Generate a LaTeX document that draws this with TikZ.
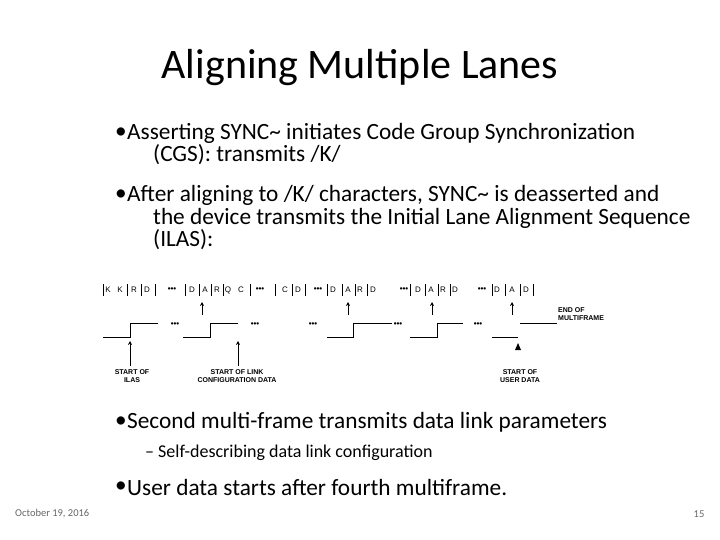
\documentclass[tikz,border=0pt]{standalone}
\usepackage{fontspec}
\usetikzlibrary{arrows.meta}
\setmainfont{Carlito}
\newfontfamily\arial{Liberation Sans}
\begin{document}
\begin{tikzpicture}[x=1pt,y=-1pt,
  txt/.style={anchor=west,inner sep=0,font=\fontsize{23.3}{27}\selectfont},
  sub/.style={anchor=west,inner sep=0,font=\fontsize{18}{22}\selectfont},
  ch/.style={inner sep=0,font=\arial\fontsize{8}{9}\selectfont},
  lab/.style={inner sep=0,align=center,font=\arial\bfseries\fontsize{7}{8}\selectfont},
  wave/.style={line width=0.8pt},
  arr/.style={line width=1pt,-{Stealth[length=4pt,width=4pt]}}]
\useasboundingbox (0,0) rectangle (720,540);
\node (title) at (360,68) {\fontsize{42}{46}\selectfont Aligning Multiple Lanes};
\foreach \y [count=\i] in {133,195,422,487} \node[txt] (bul\i) at (115,\y) {•};
\node[txt] (b1) at (127,133) {Asserting SYNC\textasciitilde{} initiates Code Group Synchronization};
\node[txt] (b1b) at (153,155) {(CGS): transmits /K/};
\node[txt] (b2) at (127,195) {After aligning to /K/ characters, SYNC\textasciitilde{} is deasserted and};
\node[txt] (b2b) at (153,218) {the device transmits the Initial Lane Alignment Sequence};
\node[txt] (b2c) at (153,240) {(ILAS):};
\node[txt] (b3) at (127,422) {Second multi-frame transmits data link parameters};
\node[sub] (s1) at (145,453) {– Self-describing data link configuration};
\node[txt] (b4) at (127,487) {User data starts after fourth multiframe.};
\node[anchor=west,inner sep=0,font=\fontsize{10.5}{12}\selectfont,text=gray!80!black] (date) at (15,514) {October 19, 2016};
\node[inner sep=0,font=\fontsize{10.5}{12}\selectfont,text=gray!80!black] (pg) at (699,514) {15};
% character row
\foreach \x/\c [count=\i] in {108/K,120/K,134/R,147/D,192/D,205/A,217/R,228/Q,241/C,285/C,298/D,333/D,348/A,360/R,373/D,418/D,431/A,443/R,455/D,497/D,512/A,526/D}
  \node[ch] (c\i) at (\x,290) {\c};
\foreach \x [count=\i] in {172,260,318,404,482}
  \node[ch] (d\i) at (\x,290) {\textbf{•••}};
\foreach \x in {103,127,141,155,185,199,211,223,250,275,292,305,327,342,355,367,410,425,438,450,492,505,520,533}
  \draw[line width=0.6pt] (\x,284) -- (\x,296);
% up arrows on A
\foreach \x [count=\i] in {202,348,432,512}
  {\coordinate (ta\i) at (\x,315); \coordinate (tb\i) at (\x,302); \draw[arr] (ta\i) -- (tb\i);}
% waveform
\draw[wave] (103,337) -- (130,337) -- (130,323) -- (158,323);
\draw[wave] (183,337) -- (210,337) -- (210,323) -- (238,323);
\draw[wave] (327,337) -- (353,337) -- (353,323) -- (392,323);
\draw[wave] (410,337) -- (437,337) -- (437,323) -- (463,323);
\draw[wave] (492,337) -- (518,337);
\draw[wave] (520,323) -- (557,323);
\foreach \x [count=\i] in {175,255,313,398,478}
  \node[ch] (w\i) at (\x,325) {\textbf{•••}};
\node[lab,align=left,anchor=west] (end) at (558,314) {END OF\\MULTIFRAME};
% bottom arrows and labels
\node[lab] (l1) at (132,376) {START OF\\ILAS};
\node[lab] (l2) at (237,376) {START OF LINK\\CONFIGURATION DATA};
\node[lab] (l3) at (520,376) {START OF\\USER DATA};
\coordinate (p1) at (130,341); \coordinate (p2) at (238,341);
\coordinate (q1) at (130,366); \coordinate (q2) at (238,366);
\draw[arr] (q1) -- (p1);
\draw[arr] (q2) -- (p2);
\fill (515,350) -- (521,350) -- (518,343) -- cycle;
\end{tikzpicture}
\end{document}
